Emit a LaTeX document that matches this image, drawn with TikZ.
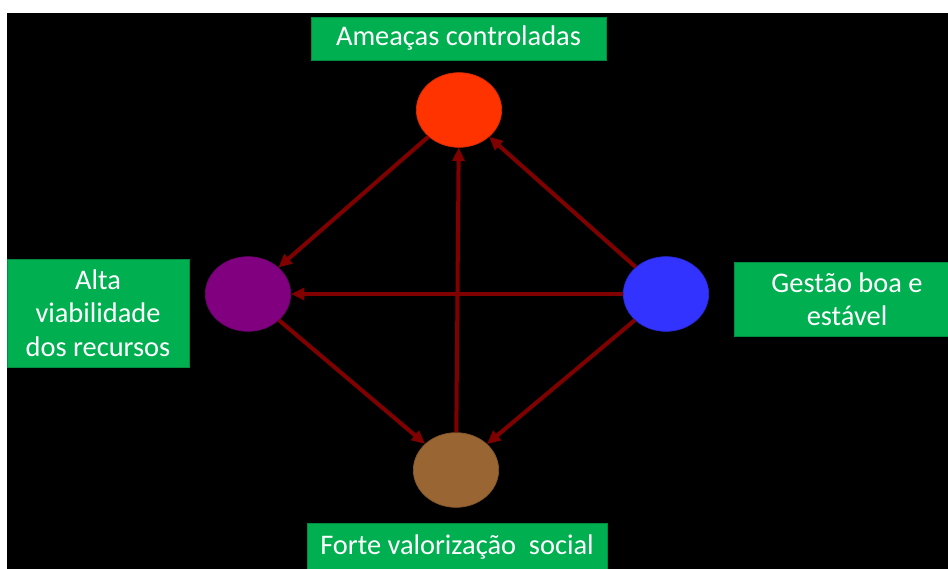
\documentclass[tikz,border=0pt]{standalone}
\usepackage{fontspec}
\setmainfont{Carlito}
\usetikzlibrary{shapes.geometric,arrows.meta}
\definecolor{boxgreen}{HTML}{00B050}
\definecolor{arrowred}{HTML}{800000}
\definecolor{cred}{HTML}{FF3300}
\definecolor{cpurple}{HTML}{800080}
\definecolor{cblue}{HTML}{3333FF}
\definecolor{cbrown}{HTML}{996633}
\tikzset{
  lbl/.style={fill=boxgreen, draw=boxgreen!80!black, line width=0.5pt, text=white, align=center,
    font=\fontsize{21.3pt}{25pt}\selectfont, inner sep=0pt},
  circ/.style={ellipse, inner sep=0pt, minimum width=64pt, minimum height=56pt, draw=#1!85!black, line width=0.5pt, fill=#1},
  arr/.style={draw=arrowred, line width=3pt, -{Triangle[length=10pt,width=9pt]}, shorten >=0pt}
}
\begin{document}
\begin{tikzpicture}[x=0.75pt,y=-0.75pt]
\useasboundingbox (0,0) rectangle (948,568);
\fill[white] (0,0) rectangle (948,568);
\fill[black] (7,13) rectangle (960,580);
% ellipses
\node[circ=cred] (r) at (459,110) {};
\node[circ=cpurple] (p) at (248,294) {};
\node[circ=cblue] (b) at (666,294) {};
\node[circ=cbrown] (w) at (456,470) {};
% labels
\node[lbl, minimum width=221pt, minimum height=32pt] (lt) at (458.5,38.5) {Ameaças controladas};
\node[lbl, minimum width=136.5pt, minimum height=81pt] (ll) at (98,313) {Alta\\viabilidade\\dos recursos};
\node[lbl, minimum width=169.5pt, minimum height=55.5pt] (lr) at (847,299) {Gestão boa e\\estável};
\node[lbl, minimum width=225pt, minimum height=36pt] (lb) at (457,547) {Forte valorização\ \ social};
% arrows
\draw[arr] (r) -- (p);
\draw[arr] (b) -- (r);
\draw[arr] (b) -- (p);
\draw[arr] (w) -- (r);
\draw[arr] (p) -- (w);
\draw[arr] (b) -- (w);
\end{tikzpicture}
\end{document}
